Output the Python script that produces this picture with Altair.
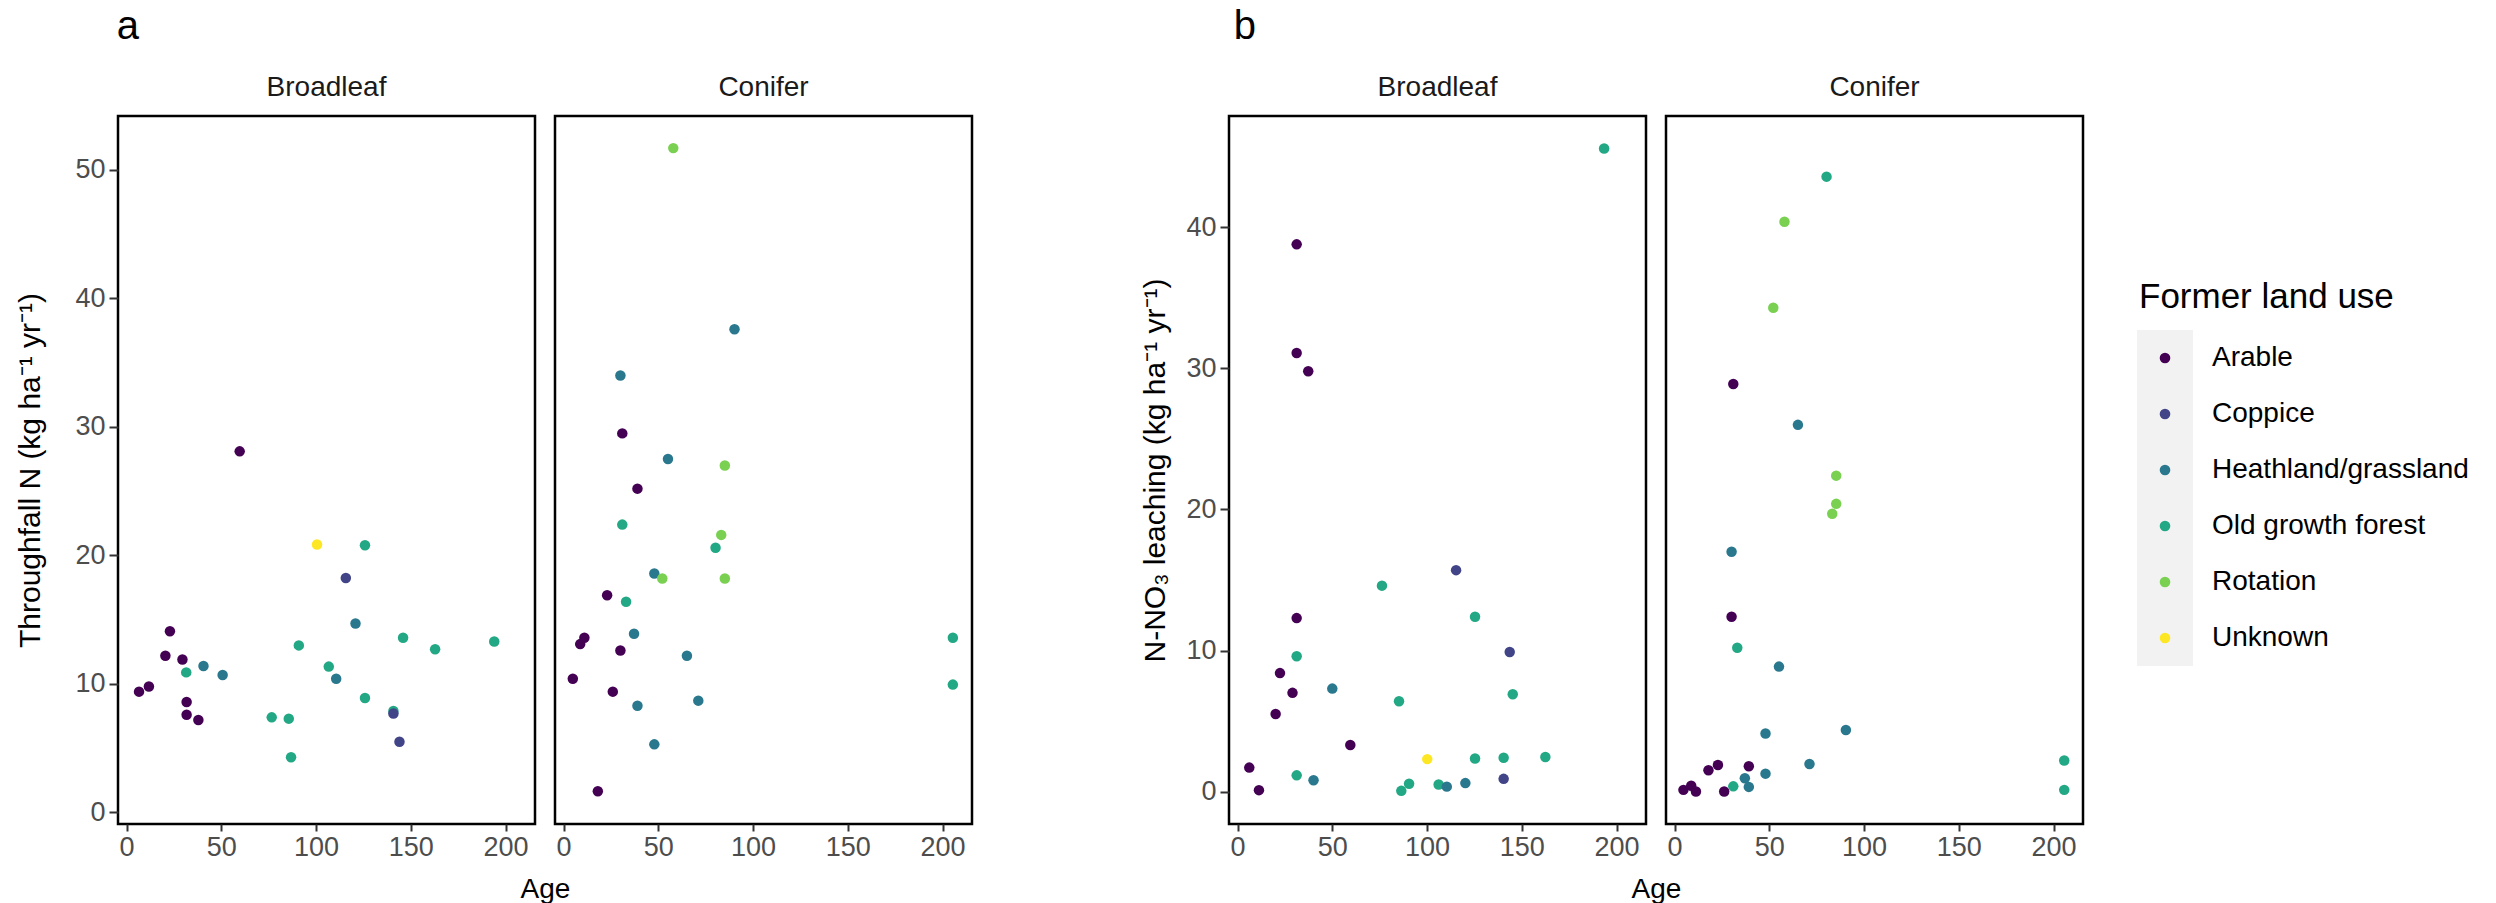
import altair as alt
import pandas as pd

# ---------------- categories, colours, ticks ----------------
USES = ["Arable", "Coppice", "Heathland/grassland", "Old growth forest", "Rotation", "Unknown"]
USE_CODES = {"A": "Arable", "C": "Coppice", "H": "Heathland/grassland",
             "O": "Old growth forest", "R": "Rotation", "U": "Unknown"}
COLORS = ["#440154", "#414487", "#2A788E", "#22A884", "#7AD151", "#FDE725"]
TYPES = ["Broadleaf", "Conifer"]
X_TICKS = [0, 50, 100, 150, 200]
A_TICKS = [0, 10, 20, 30, 40, 50]
B_TICKS = [0, 10, 20, 30, 40]
A_YTITLE = "Throughfall N (kg ha\u207b\u00b9 yr\u207b\u00b9)"
B_YTITLE = "N-NO\u2083 leaching (kg ha\u207b\u00b9 yr\u207b\u00b9)"
X_TITLE = "Age"
LEGEND_TITLE = "Former land use"

# ---------------- panel a: throughfall N ----------------
a_broad_age = [6.6, 11.8, 20.5, 22.9, 29.5, 31.7, 31.7, 37.9, 59.7, 31.5, 40.6, 50.7, 76.6, 85.6, 86.8,
               90.9, 100.5, 106.7, 110.6, 115.7, 120.8, 125.8, 125.8, 140.8, 140.8, 144.0, 145.9, 162.8, 194.0]
a_broad_val = [9.4, 9.8, 12.2, 14.1, 11.9, 8.6, 7.6, 7.2, 28.1, 10.9, 11.4, 10.7, 7.4, 7.3, 4.3,
               13.0, 20.85, 11.35, 10.4, 18.25, 14.7, 20.8, 8.9, 7.9, 7.7, 5.5, 13.6, 12.7, 13.3]
a_broad_use = ["A", "A", "A", "A", "A", "A", "A", "A", "A", "O", "H", "H", "O", "O", "O",
               "O", "U", "O", "H", "C", "H", "O", "O", "O", "C", "C", "O", "O", "O"]

a_conif_age = [57.9, 90.2, 30.0, 31.0, 55.1, 85.1, 39.0, 31.0, 83.2, 80.2, 47.9, 52.1, 85.1, 23.0,
               33.0, 37.2, 11.0, 8.8, 30.0, 65.1, 205.4, 205.4, 4.9, 26.0, 39.0, 71.1, 47.9, 18.1]
a_conif_val = [51.7, 37.6, 34.0, 29.5, 27.5, 27.0, 25.2, 22.4, 21.6, 20.6, 18.6, 18.2, 18.2, 16.9,
               16.4, 13.9, 13.6, 13.1, 12.6, 12.2, 13.6, 9.95, 10.4, 9.4, 8.3, 8.7, 5.3, 1.65]
a_conif_use = ["R", "H", "H", "A", "H", "R", "A", "O", "R", "O", "H", "R", "R", "A",
               "O", "H", "A", "A", "A", "H", "O", "O", "A", "A", "H", "H", "H", "A"]

# ---------------- panel b: N-NO3 leaching ----------------
b_broad_age = [31.2, 31.2, 37.3, 31.2, 22.4, 29.0, 20.1, 59.5, 6.2, 11.3, 193.4, 76.2, 115.3, 125.3,
               31.2, 143.6, 50.0, 85.2, 145.2, 100.1, 125.3, 140.4, 162.4, 31.2, 40.1, 120.2, 140.4,
               90.5, 86.4, 106.1, 110.4]
b_broad_val = [38.8, 31.1, 29.8, 12.3, 8.4, 7.0, 5.5, 3.3, 1.7, 0.1, 45.6, 14.6, 15.7, 12.4,
               9.6, 9.9, 7.3, 6.4, 6.9, 2.3, 2.35, 2.4, 2.45, 1.15, 0.8, 0.6, 0.9,
               0.55, 0.05, 0.5, 0.35]
b_broad_use = ["A", "A", "A", "A", "A", "A", "A", "A", "A", "A", "O", "O", "C", "O",
               "O", "C", "H", "O", "O", "U", "O", "O", "O", "O", "H", "H", "C",
               "O", "O", "O", "H"]

b_conif_age = [80.2, 58.0, 52.1, 31.0, 65.1, 85.3, 85.3, 83.2, 30.1, 30.1, 33.1, 55.1, 90.4, 48.0,
               71.2, 22.9, 17.9, 39.2, 48.0, 37.1, 39.2, 31.0, 8.8, 4.7, 11.3, 26.2, 205.6, 205.6]
b_conif_val = [43.6, 40.4, 34.3, 28.9, 26.0, 22.4, 20.4, 19.7, 17.0, 12.4, 10.2, 8.86, 4.37, 4.12,
               1.96, 1.88, 1.51, 1.8, 1.27, 0.94, 0.33, 0.37, 0.41, 0.12, 0.0, 0.0, 2.2, 0.12]
b_conif_use = ["O", "R", "R", "A", "H", "R", "R", "R", "H", "A", "O", "H", "H", "H",
               "H", "A", "A", "A", "H", "H", "H", "O", "A", "A", "A", "A", "O", "O"]

X_DOMAIN = [-4.5, 215.5]
A_DOMAIN = [-0.9, 54.2]
B_DOMAIN = [-2.3, 47.9]

PANEL_W = 417
PANEL_H = 708
GAP = 20
FONT = "Liberation Sans"

color_scale = alt.Scale(domain=USES, range=COLORS)


def make_df(age, val, use):
    return pd.DataFrame({"age": age, "val": val, "use": [USE_CODES[u] for u in use]})


def panel(df, strip, ydomain, yticks, ytitle, first, ytitle_pad):
    if first:
        xaxis = alt.Axis(values=X_TICKS, title=X_TITLE, titleX=PANEL_W + GAP / 2,
                         titleAlign="center", titlePadding=15)
        yaxis = alt.Axis(values=yticks, title=ytitle, titlePadding=ytitle_pad)
    else:
        xaxis = alt.Axis(values=X_TICKS, title=None)
        yaxis = None
    return alt.Chart(df).mark_circle(size=110, opacity=1).encode(
        x=alt.X("age:Q", scale=alt.Scale(domain=X_DOMAIN, nice=False, zero=False), axis=xaxis),
        y=alt.Y("val:Q", scale=alt.Scale(domain=ydomain, nice=False, zero=False), axis=yaxis),
        color=alt.Color("use:N", scale=color_scale, legend=None),
    ).properties(
        width=PANEL_W, height=PANEL_H,
        title=alt.TitleParams(strip, fontSize=28, font=FONT, fontWeight="normal",
                              color="#1A1A1A", anchor="middle", offset=14),
    )


def group(letter, dfs, ydomain, yticks, ytitle, dx, ytitle_pad):
    p1 = panel(dfs[0], TYPES[0], ydomain, yticks, ytitle, True, ytitle_pad)
    p2 = panel(dfs[1], TYPES[1], ydomain, yticks, ytitle, False, ytitle_pad)
    return alt.hconcat(p1, p2, spacing=GAP, bounds="flush").properties(
        title=alt.TitleParams(letter, fontSize=40, font=FONT, fontWeight="normal",
                              color="black", anchor="start", dx=dx, offset=26)
    )


group_a = group("a", [make_df(a_broad_age, a_broad_val, a_broad_use),
                      make_df(a_conif_age, a_conif_val, a_conif_use)],
                A_DOMAIN, A_TICKS, A_YTITLE, 102, 29)
group_b = group("b", [make_df(b_broad_age, b_broad_val, b_broad_use),
                      make_df(b_conif_age, b_conif_val, b_conif_use)],
                B_DOMAIN, B_TICKS, B_YTITLE, 94, 15)

# ---------------- legend (ggplot style keys) ----------------
LEG_TOP = 214
LEG_STEP = 56
leg_df = pd.DataFrame({"use": USES})
leg_y = alt.Y("use:N", scale=alt.Scale(domain=USES, range=[LEG_TOP, LEG_TOP + LEG_STEP * len(USES)],
                                       paddingInner=0, paddingOuter=0), axis=None)
leg_base = alt.Chart(leg_df).encode(y=leg_y)
leg_rect = leg_base.mark_rect(color="#F2F2F2").encode(x=alt.value(0), x2=alt.value(56))
leg_pts = leg_base.mark_circle(size=113, opacity=1).encode(
    x=alt.value(28), color=alt.Color("use:N", scale=color_scale, legend=None))
leg_txt = leg_base.mark_text(align="left", baseline="middle", fontSize=28, font=FONT,
                             color="black").encode(x=alt.value(75), text="use:N")
leg_title = alt.Chart(pd.DataFrame({"t": [LEGEND_TITLE]})).mark_text(
    align="left", baseline="alphabetic", fontSize=35, font=FONT, color="black"
).encode(x=alt.value(2), y=alt.value(LEG_TOP - 22), text="t:N")
legend = alt.layer(leg_rect, leg_pts, leg_txt, leg_title).properties(
    width=56, height=700, view=alt.ViewBackground(stroke="transparent"))

right = alt.hconcat(group_b, legend, spacing=50)
chart = alt.hconcat(group_a, right, spacing=165).properties(
    padding={"left": 14, "top": 6, "right": 5, "bottom": 2},
    background="white",
).configure(font=FONT).configure_view(
    stroke="black", strokeWidth=2.5
).configure_axis(
    grid=False, domain=False, tickColor="#333333", tickWidth=2,
    labelColor="#4D4D4D", labelFontSize=27, labelFont=FONT,
    titleColor="black", titleFontSize=28, titleFont=FONT, titleFontWeight="normal",
).configure_axisX(
    tickSize=7, labelPadding=3
).configure_axisY(
    tickSize=9, labelPadding=4, titleFontSize=30
)

chart.save("out.html", embed_options={"renderer": "svg", "actions": False})
